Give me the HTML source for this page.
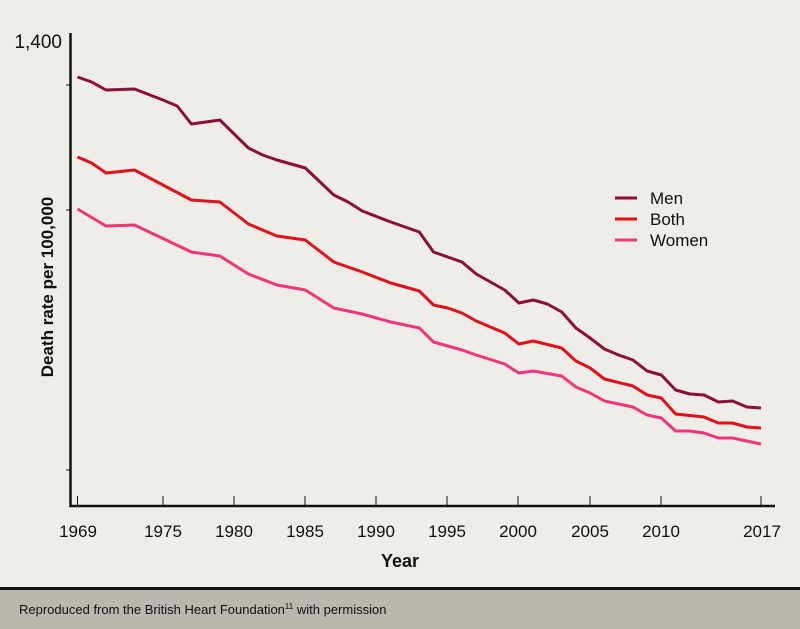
<!DOCTYPE html>
<html><head><style>
body{margin:0;background:#efede8;}
svg{display:block;font-family:"Liberation Sans Narrow","Liberation Sans",sans-serif;}
</style></head><body>
<svg width="800" height="629" viewBox="0 0 800 629" xmlns="http://www.w3.org/2000/svg">
<rect width="800" height="629" fill="#efede8"/>
<rect x="0" y="589" width="800" height="40" fill="#bab6b0"/>
<rect x="0" y="587" width="800" height="3" fill="#111"/>
<text x="19" y="614" font-size="13" fill="#111">Reproduced from the British Heart Foundation<tspan font-size="8" dy="-5">11</tspan><tspan dy="5"> with permission</tspan></text>
<g stroke="#111" fill="none">
<path d="M70.5 33V506H775" stroke-width="2.5"/>
<path d="M70 85h-4M70 210h-4M70 470h-4" stroke-width="1"/>
<g stroke-width="1"><path d="M77.5 506v-10M163 506v-10M234 506v-10M305 506v-10M376 506v-10M447 506v-10M518 506v-10M590 506v-10M661 506v-10M761 506v-10"/></g>
</g>
<text x="62" y="48" font-size="19" text-anchor="end" fill="#111">1,400</text>
<g font-size="17" fill="#111" text-anchor="middle">
<text x="78" y="537">1969</text><text x="163" y="537">1975</text><text x="234" y="537">1980</text><text x="305" y="537">1985</text><text x="376" y="537">1990</text><text x="447" y="537">1995</text><text x="518" y="537">2000</text><text x="590" y="537">2005</text><text x="661" y="537">2010</text><text x="762" y="537">2017</text>
</g>
<text x="400" y="567" font-size="18" font-weight="bold" text-anchor="middle" fill="#111">Year</text>
<text transform="translate(53,287) rotate(-90)" font-size="17" font-weight="bold" text-anchor="middle" fill="#111">Death rate per 100,000</text>
<g fill="none" stroke-width="3" stroke-linejoin="round">
<polyline stroke="#8b0f3a" points="77.5,77 91.7,82 106,90 134.5,89 162.9,100 177.2,106 191.4,124 219.9,120 248.4,148 262.6,155 276.9,160 305.3,168 333.8,195 348.1,202 362.3,211 390.8,222 419.3,232 433.5,252 462,262 476.2,274 504.7,290 518.9,303 533.2,300 547.4,304 561.7,312 575.9,328 590.1,338 604.4,349 618.6,355 632.9,360 647.1,371 661.3,375 675.6,390 689.8,394 704.1,395 718.3,402 732.5,401 746.8,407 761,408"/>
<polyline stroke="#e3101c" points="77.5,157 91.7,163 106,173 134.5,170 162.9,185 191.4,200 219.9,202 248.4,224 276.9,236 305.3,240 333.8,262 362.3,272 390.8,283 419.3,291 433.5,305 447.7,308 462,313 476.2,321 504.7,333 518.9,344 533.2,341 561.7,348 575.9,361 590.1,368 604.4,379 632.9,386 647.1,395 661.3,398 675.6,414 704.1,417 718.3,423 732.5,423 746.8,427 761,428"/>
<polyline stroke="#f0357a" points="77.5,209 106,226 134.5,225 191.4,252 219.9,256 248.4,274 276.9,285 305.3,290 333.8,308 362.3,314 390.8,322 419.3,328 433.5,342 462,350 476.2,355 504.7,364 518.9,373 533.2,371 561.7,376 575.9,387 590.1,393 604.4,401 632.9,407 647.1,415 661.3,418 675.6,431 689.8,431 704.1,433 718.3,438 732.5,438 746.8,441 761,444"/>
</g>
<g stroke-width="3"><path d="M615 198h22" stroke="#8b0f3a"/><path d="M615 219h22" stroke="#e3101c"/><path d="M615 240h22" stroke="#f0357a"/></g>
<g font-size="17" fill="#111"><text x="650" y="204">Men</text><text x="650" y="225">Both</text><text x="650" y="246">Women</text></g>
</svg>
</body></html>
